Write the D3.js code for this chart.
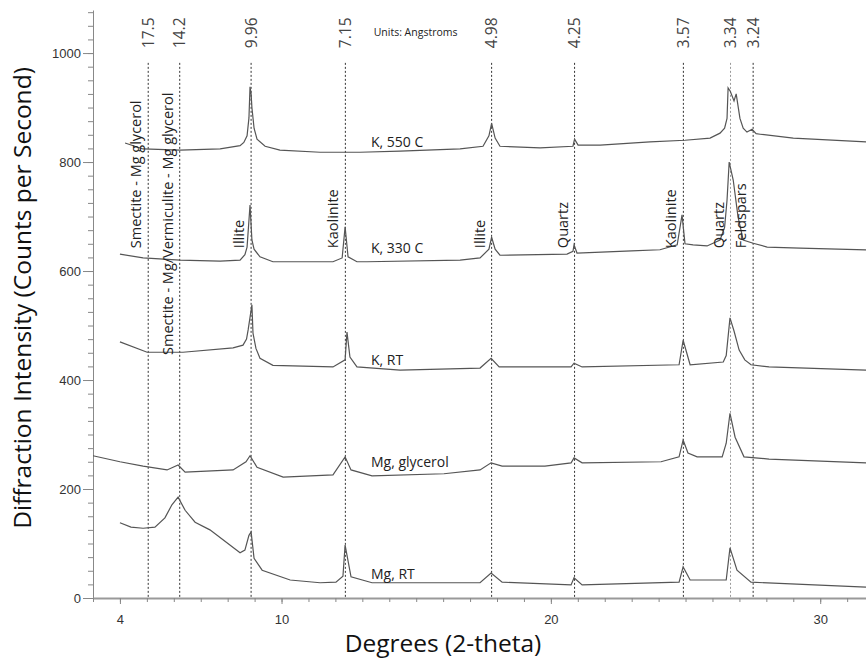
<!DOCTYPE html>
<html>
<head>
<meta charset="utf-8">
<script src="https://cdn.jsdelivr.net/npm/d3@7"></script>
<style>
  body { margin: 0; background: #fff; }
  text { font-family: "Open Sans", "Noto Sans", sans-serif; }
  .tick text { font-family: "Liberation Sans", Arial, sans-serif; font-size: 13px; fill: #333; }
</style>
</head>
<body>
<div id="chart"></div>
<script>
// reference peaks (d-spacing labels, Angstroms) and their 2-theta positions
var peakD = ["17.5", "14.2", "9.96", "7.15", "4.98", "4.25", "3.57", "3.34", "3.24"];
var peakTheta = [5.05, 6.22, 8.87, 12.37, 17.80, 20.88, 24.92, 26.67, 27.51];

// mineral annotations (text, 2-theta of the line it sits on, intensity where text starts)
var mineralNames = ["Smectite - Mg glycerol", "Smectite - Mg/Vermiculite - Mg glycerol", "Illite", "Kaolinite",
                    "Illite", "Quartz", "Kaolinite", "Quartz", "Feldspars"];
var mineralTheta = [5.05, 6.22, 8.87, 12.37, 17.80, 20.88, 24.92, 26.67, 27.51];
var mineralBase = [642, 446, 642, 642, 642, 642, 642, 642, 642];

var xTicks = [4, 10, 20, 30];
var yTicks = [0, 200, 400, 600, 800, 1000];

var seriesNames = ["K, 550 C", "K, 330 C", "K, RT", "Mg, glycerol", "Mg, RT"];
var seriesLabelTheta = 13.32;
var seriesLabelBase = [828, 633, 428, 240, 35];

// patterns: [2-theta, counts per second]
var k550 = [[4.19,835],[4.86,824],[6.23,822],[7.72,824],[8.46,830],[8.60,836],[8.72,848],[8.79,881],[8.83,938],
  [8.87,925],[8.90,900],[8.98,862],[9.09,842],[9.39,829],[9.94,822],[11.43,818],[12.91,818],[14.40,820],[16.63,824],
  [17.48,829],[17.70,848],[17.80,871],[17.93,844],[18.11,829],[19.60,826],[20.82,829],[20.88,842],[21.01,831],
  [21.83,831],[23.68,837],[24.98,840],[25.91,844],[26.28,853],[26.45,862],[26.54,880],[26.58,936],[26.66,930],
  [26.80,912],[26.88,925],[27.02,880],[27.14,862],[27.28,855],[27.47,860],[27.62,852],[27.77,851],[29.0,844],
  [31.70,837]];

var k330 = [[4.00,631],[4.86,624],[6.23,620],[7.72,618],[8.46,620],[8.64,630],[8.72,644],[8.83,721],[8.90,657],
  [8.98,640],[9.20,626],[9.68,617],[11.91,617],[12.25,624],[12.36,681],[12.47,626],[12.80,617],[13.17,617],
  [16.63,620],[17.37,624],[17.70,640],[17.80,662],[17.93,640],[18.11,629],[20.60,631],[20.82,636],[20.86,648],
  [20.97,633],[23.0,637],[24.05,639],[24.69,648],[24.87,703],[24.98,650],[25.28,648],[25.80,646],[26.28,657],
  [26.45,680],[26.54,730],[26.62,800],[26.77,767],[26.95,699],[27.14,657],[27.51,651],[28.03,644],[29.25,642],
  [31.70,639]];

var kRT = [[4.00,470],[5.01,451],[6.34,451],[8.20,459],[8.57,464],[8.70,475],[8.76,492],[8.90,538],[8.94,486],
  [9.05,458],[9.20,440],[9.68,427],[11.91,424],[12.36,437],[12.43,488],[12.54,442],[12.80,424],[14.40,418],
  [17.37,422],[17.78,440],[18.08,424],[20.75,424],[20.86,431],[21.16,424],[24.76,428],[24.91,473],[25.17,428],
  [26.40,433],[26.51,445],[26.65,514],[26.80,490],[26.99,455],[27.20,437],[27.43,428],[28.10,424],[31.70,418]];

var mgGly = [[3.0,261],[4.00,250],[4.86,242],[5.75,235],[6.16,244],[6.42,231],[8.20,235],[8.68,250],[8.83,261],
  [9.09,240],[10.06,222],[11.91,226],[12.36,259],[12.58,235],[13.36,224],[16.03,228],[17.37,235],[17.78,248],
  [18.19,242],[19.78,242],[20.75,248],[20.86,257],[21.16,248],[24.09,250],[24.76,259],[24.91,290],[25.09,266],
  [25.43,259],[26.36,259],[26.51,284],[26.65,339],[26.84,295],[27.17,259],[28.10,255],[31.70,248]];

var mgRT = [[4.00,138],[4.41,130],[4.86,128],[5.30,130],[5.67,147],[5.93,171],[6.16,185],[6.42,161],[6.79,139],
  [7.34,125],[7.90,104],[8.46,83],[8.64,88],[8.79,115],[8.87,121],[8.98,73],[9.28,51],[10.32,33],[11.43,28],
  [12.02,29],[12.28,40],[12.36,97],[12.58,39],[13.36,28],[17.37,28],[17.78,46],[18.19,29],[20.75,24],[20.86,37],
  [21.16,24],[24.76,29],[24.91,57],[25.17,33],[26.51,33],[26.65,92],[26.91,51],[27.43,29],[31.70,20]];

var patterns = [k550, k330, kRT, mgGly, mgRT];

var w = 866, h = 663;

var xscale = d3.scaleLinear().domain([3, 31.7]).range([93, 866]);
var yscale = d3.scaleLinear().domain([0, 1079]).range([598, 10]);

var svg = d3.select("#chart").append("svg")
  .attr("width", w)
  .attr("height", h);

// y axis: minor + major ticks
svg.append("g")
  .attr("transform", "translate(93,0)")
  .call(d3.axisLeft(yscale).tickValues(d3.range(0, 1076, 25)).tickSize(5).tickFormat("").tickSizeOuter(0))
  .call(function(g) { g.selectAll("line").attr("stroke", "#888"); g.select(".domain").attr("stroke", "#888"); });

svg.append("g")
  .attr("transform", "translate(93,0)")
  .call(d3.axisLeft(yscale).tickValues(yTicks).tickSize(10).tickPadding(2).tickFormat(d3.format("d")).tickSizeOuter(0))
  .call(function(g) { g.select(".domain").remove(); g.selectAll("line").attr("stroke", "#888"); });

// x axis
svg.append("g")
  .attr("transform", "translate(0,598)")
  .call(d3.axisBottom(xscale).tickValues(d3.range(3, 32, 1)).tickSize(4).tickFormat("").tickSizeOuter(0))
  .call(function(g) {
    g.selectAll("line").attr("stroke", "#888");
    g.select(".domain").attr("stroke", "#999").attr("stroke-width", 2);
  });

svg.append("g")
  .attr("transform", "translate(0,598)")
  .call(d3.axisBottom(xscale).tickValues(xTicks).tickSize(6).tickPadding(11).tickSizeOuter(0))
  .call(function(g) { g.select(".domain").remove(); g.selectAll("line").attr("stroke", "#888"); });

// axis titles
svg.append("text")
  .attr("x", 443).attr("y", 652)
  .attr("text-anchor", "middle")
  .style("font-size", "24.5px")
  .attr("fill", "#111")
  .text("Degrees (2-theta)");

svg.append("text")
  .attr("transform", "translate(31,298) rotate(-90)")
  .attr("text-anchor", "middle")
  .style("font-size", "24.5px")
  .attr("fill", "#111")
  .text("Diffraction Intensity (Counts per Second)");

// dashed reference lines
svg.append("g").selectAll("line")
  .data(peakTheta)
  .enter().append("line")
  .attr("x1", function(d) { return xscale(d); })
  .attr("x2", function(d) { return xscale(d); })
  .attr("y1", yscale(982))
  .attr("y2", yscale(0))
  .attr("stroke", function(d, i) { return i == 7 ? "#999" : "#333"; })
  .attr("stroke-width", 1)
  .attr("stroke-dasharray", "2,2");

// d-spacing labels on top
svg.append("g").selectAll("text")
  .data(peakD)
  .enter().append("text")
  .attr("transform", function(d, i) { return "translate(" + xscale(peakTheta[i]) + "," + yscale(1009) + ") rotate(-90)"; })
  .attr("dy", "0.35em")
  .style("font-size", "15.5px")
  .attr("fill", "#444")
  .text(function(d) { return d; });

svg.append("text")
  .attr("x", xscale(13.42)).attr("y", yscale(1031))
  .style("font-size", "10.5px")
  .attr("fill", "#222")
  .text("Units: Angstroms");

// patterns
var line = d3.line()
  .x(function(d) { return xscale(d[0]); })
  .y(function(d) { return yscale(d[1]); });

svg.append("g").selectAll("path")
  .data(patterns)
  .enter().append("path")
  .attr("d", line)
  .attr("fill", "none")
  .attr("stroke", "#555")
  .attr("stroke-width", 1.2);

// series labels
svg.append("g").selectAll("text")
  .data(seriesNames)
  .enter().append("text")
  .attr("x", xscale(seriesLabelTheta))
  .attr("y", function(d, i) { return yscale(seriesLabelBase[i]); })
  .style("font-size", "14px")
  .attr("fill", "#222")
  .text(function(d) { return d; });

// mineral annotations
svg.append("g").selectAll("text")
  .data(mineralNames)
  .enter().append("text")
  .attr("transform", function(d, i) {
    return "translate(" + (xscale(mineralTheta[i]) - 7) + "," + yscale(mineralBase[i]) + ") rotate(-90)";
  })
  .style("font-size", "14.5px")
  .attr("fill", "#222")
  .text(function(d) { return d; });
</script>
</body>
</html>
